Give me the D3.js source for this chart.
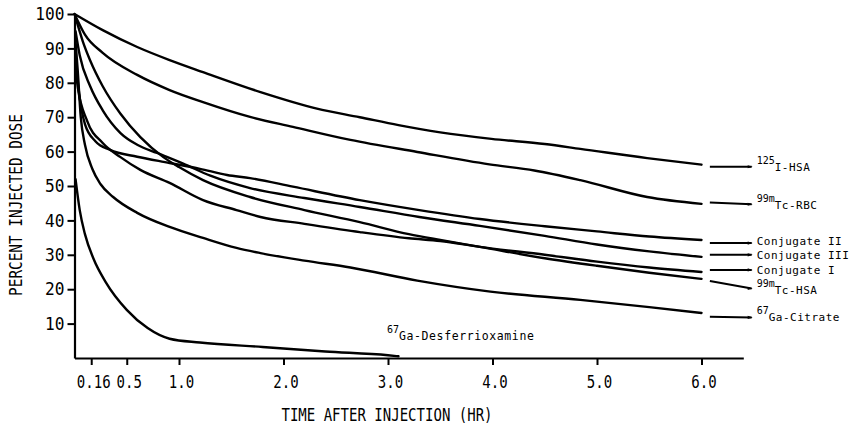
<!DOCTYPE html>
<html><head><meta charset="utf-8">
<script src="https://cdn.jsdelivr.net/npm/d3@7"></script>
<style>
body{margin:0;background:#fff;}
svg{display:block;}
</style></head>
<body><svg id="c" width="857" height="429"></svg>
<script>
// ---- data (time in hours, percent injected dose) ----
const iHSA125   = [[0,100],[0.27,95.3],[0.6,90.4],[0.91,86.6],[1.23,83.1],[1.78,77.3],[2.32,72.5],[2.73,70],[3.1,67.7],[3.5,65.6],[3.99,63.7],[4.5,62.2],[4.84,60.8],[5.48,58.1],[6.0,56.2]];
const tcRBC99m  = [[0,100],[0.1,94],[0.27,88.7],[0.6,82.3],[0.91,77.9],[1.23,74.4],[1.68,70.1],[2.09,67.2],[2.64,63.4],[3.28,59.9],[3.97,56.3],[4.4,54.5],[4.84,51.7],[5.48,46.8],[6.0,44.8]];
const conjII    = [[0.01,88],[0.04,78],[0.1,68],[0.2,63],[0.34,60.5],[0.6,58.5],[0.91,56.7],[1.2,55],[1.46,53.2],[1.68,52.3],[2.09,49.8],[2.73,45.9],[3.3,43],[3.88,40.4],[4.5,38.3],[5.0,36.8],[5.5,35.3],[6.0,34.3]];
const conjIII   = [[0.01,95],[0.05,88],[0.15,79],[0.27,72],[0.44,65.4],[0.6,62],[0.79,59.6],[1.04,56.5],[1.3,53],[1.68,49.4],[2.2,46.5],[2.73,43.9],[3.3,41],[3.88,38.4],[4.5,35.5],[5.0,33],[5.5,31],[6.0,29.4]];
const conjI     = [[0.01,85],[0.03,79],[0.12,69],[0.27,62.5],[0.44,58.4],[0.63,54.7],[0.91,50.9],[1.23,45.9],[1.55,43],[1.78,41],[2.2,39],[2.73,36.6],[3.2,34.8],[3.5,34],[3.88,32.3],[4.5,30],[5.0,28],[5.5,26.3],[6.0,25]];
const tcHSA99m  = [[0.01,99],[0.08,92],[0.15,86.5],[0.27,79],[0.44,71],[0.63,64.2],[0.85,58.4],[1.0,55.5],[1.23,51.7],[1.68,46.8],[2.2,43],[2.73,39.5],[3.2,36],[3.5,34.3],[3.88,32.3],[4.5,29],[5.0,26.8],[5.5,24.8],[6.0,23]];
const gaCitrate = [[0.01,92],[0.03,84],[0.06,70],[0.1,62],[0.17,55],[0.25,50.5],[0.37,46.8],[0.6,42.2],[0.91,38.1],[1.23,34.9],[1.55,32],[1.78,30.5],[2.2,28.3],[2.64,26.3],[3.28,22.5],[3.98,19.3],[4.84,16.9],[5.5,14.8],[6.0,13.1]];
const gaDesferri= [[0.01,52],[0.05,43],[0.1,36],[0.18,29],[0.3,22],[0.5,14],[0.7,8.7],[0.91,5.6],[1.2,4.5],[1.8,3.2],[2.4,1.9],[3.0,0.8],[3.1,0.5]];

const labelSup  = ["125","99m","","","","99m","67"];
const labelMain = ["I-HSA","Tc-RBC","Conjugate II","Conjugate III","Conjugate I","Tc-HSA","Ga-Citrate"];
const leadStart = [55.6,45.2,33.4,30.0,25.6,22.4,12.0];
const leadEnd   = [55.6,44.7,33.4,30.0,25.6,20.2,11.8];
const leadT     = [6.08,6.48];

const xTicks = [0.16,0.5,1,2,3,4,5,6];
const xTickLabels = ["0.16","0.5","1.0","2.0","3.0","4.0","5.0","6.0"];
const yTicks = [10,20,30,40,50,60,70,80,90,100];

const labelled = [iHSA125,tcRBC99m,conjII,conjIII,conjI,tcHSA99m,gaCitrate];

// ---- drawing ----
const svg = d3.select("#c");
svg.append("rect").attr("width",857).attr("height",429).attr("fill","#fff");
const x = d3.scaleLinear().domain([0,6.4]).range([74.5,743.3]);
const y = d3.scaleLinear().domain([0,100]).range([358,14]);
const FONT = "'DejaVu Sans Mono', monospace";

const line = d3.line().x(d=>x(d[0])).y(d=>y(d[1])).curve(d3.curveMonotoneX);

[...labelled, gaDesferri].forEach(s=>{
  svg.append("path").attr("d",line(s)).attr("fill","none")
     .attr("stroke","#000").attr("stroke-width",2.4).attr("stroke-linejoin","round").attr("stroke-linecap","round");
});

// leaders + labels
const baseOff = [4,5,2,4,4,5,4];
labelled.forEach((s,i)=>{
  svg.append("line").attr("x1",x(leadT[0])).attr("y1",y(leadStart[i]))
     .attr("x2",x(leadT[1])).attr("y2",y(leadEnd[i]))
     .attr("stroke","#000").attr("stroke-width",2);
  svg.append("path")
     .attr("d",`M${x(leadT[1])-4},${y(leadEnd[i])-1.6}L${x(leadT[1])+1},${y(leadEnd[i])}L${x(leadT[1])-4},${y(leadEnd[i])+1.6}Z`)
     .attr("fill","#000");
  const t = svg.append("text").attr("x",x(leadT[1])+5).attr("y",y(leadEnd[i]) + baseOff[i])
     .attr("font-family",FONT).attr("font-size",11).attr("letter-spacing",0.5).attr("fill","#000");
  if(labelSup[i]){
    t.append("tspan").attr("font-size",10).attr("letter-spacing",0).attr("dy",-7).text(labelSup[i]);
    t.append("tspan").attr("dy",7).text(labelMain[i]);
  } else t.text(labelMain[i]);
});

// desferrioxamine label
{
  const t = svg.append("text").attr("x",x(2.99)).attr("y",340)
     .attr("font-family",FONT).attr("font-size",11.5).attr("letter-spacing",0.6).attr("fill","#000");
  t.append("tspan").attr("font-size",10).attr("letter-spacing",0).attr("dy",-7).text("67");
  t.append("tspan").attr("dy",7).text("Ga-Desferrioxamine");
}

// axes
const xAxis = d3.axisBottom(x).tickValues(xTicks).tickFormat((d,i)=>xTickLabels[i])
   .tickSize(7).tickPadding(10).tickSizeOuter(0);
const gx = svg.append("g").attr("transform","translate(0,358)").call(xAxis);
gx.select(".domain").attr("stroke-width",2.2);
gx.selectAll(".tick line").attr("stroke-width",2);
gx.selectAll(".tick text").attr("font-family",FONT).attr("font-size",18).attr("fill","#000")
  .attr("x",2/0.78).attr("transform","scale(0.78,1)");

const yAxis = d3.axisLeft(y).tickValues(yTicks).tickSize(7).tickSizeOuter(0);
const gy = svg.append("g").attr("transform","translate(74.5,0)").call(yAxis);
gy.select(".domain").attr("stroke-width",2.2);
gy.selectAll(".tick line").attr("stroke-width",2);
gy.selectAll(".tick text").attr("font-family",FONT).attr("font-size",18).attr("fill","#000")
  .attr("x",-10/0.9).attr("transform","scale(0.9,1)");

// axis titles
svg.append("text").attr("transform","translate(387,421) scale(0.78,1)")
   .attr("text-anchor","middle").attr("font-family",FONT).attr("font-size",18).attr("fill","#000")
   .text("TIME AFTER INJECTION (HR)");
svg.append("text").attr("transform","translate(22,205) rotate(-90) scale(0.8,1)")
   .attr("text-anchor","middle").attr("font-family",FONT).attr("font-size",18).attr("fill","#000")
   .text("PERCENT INJECTED DOSE");
</script></body></html>
